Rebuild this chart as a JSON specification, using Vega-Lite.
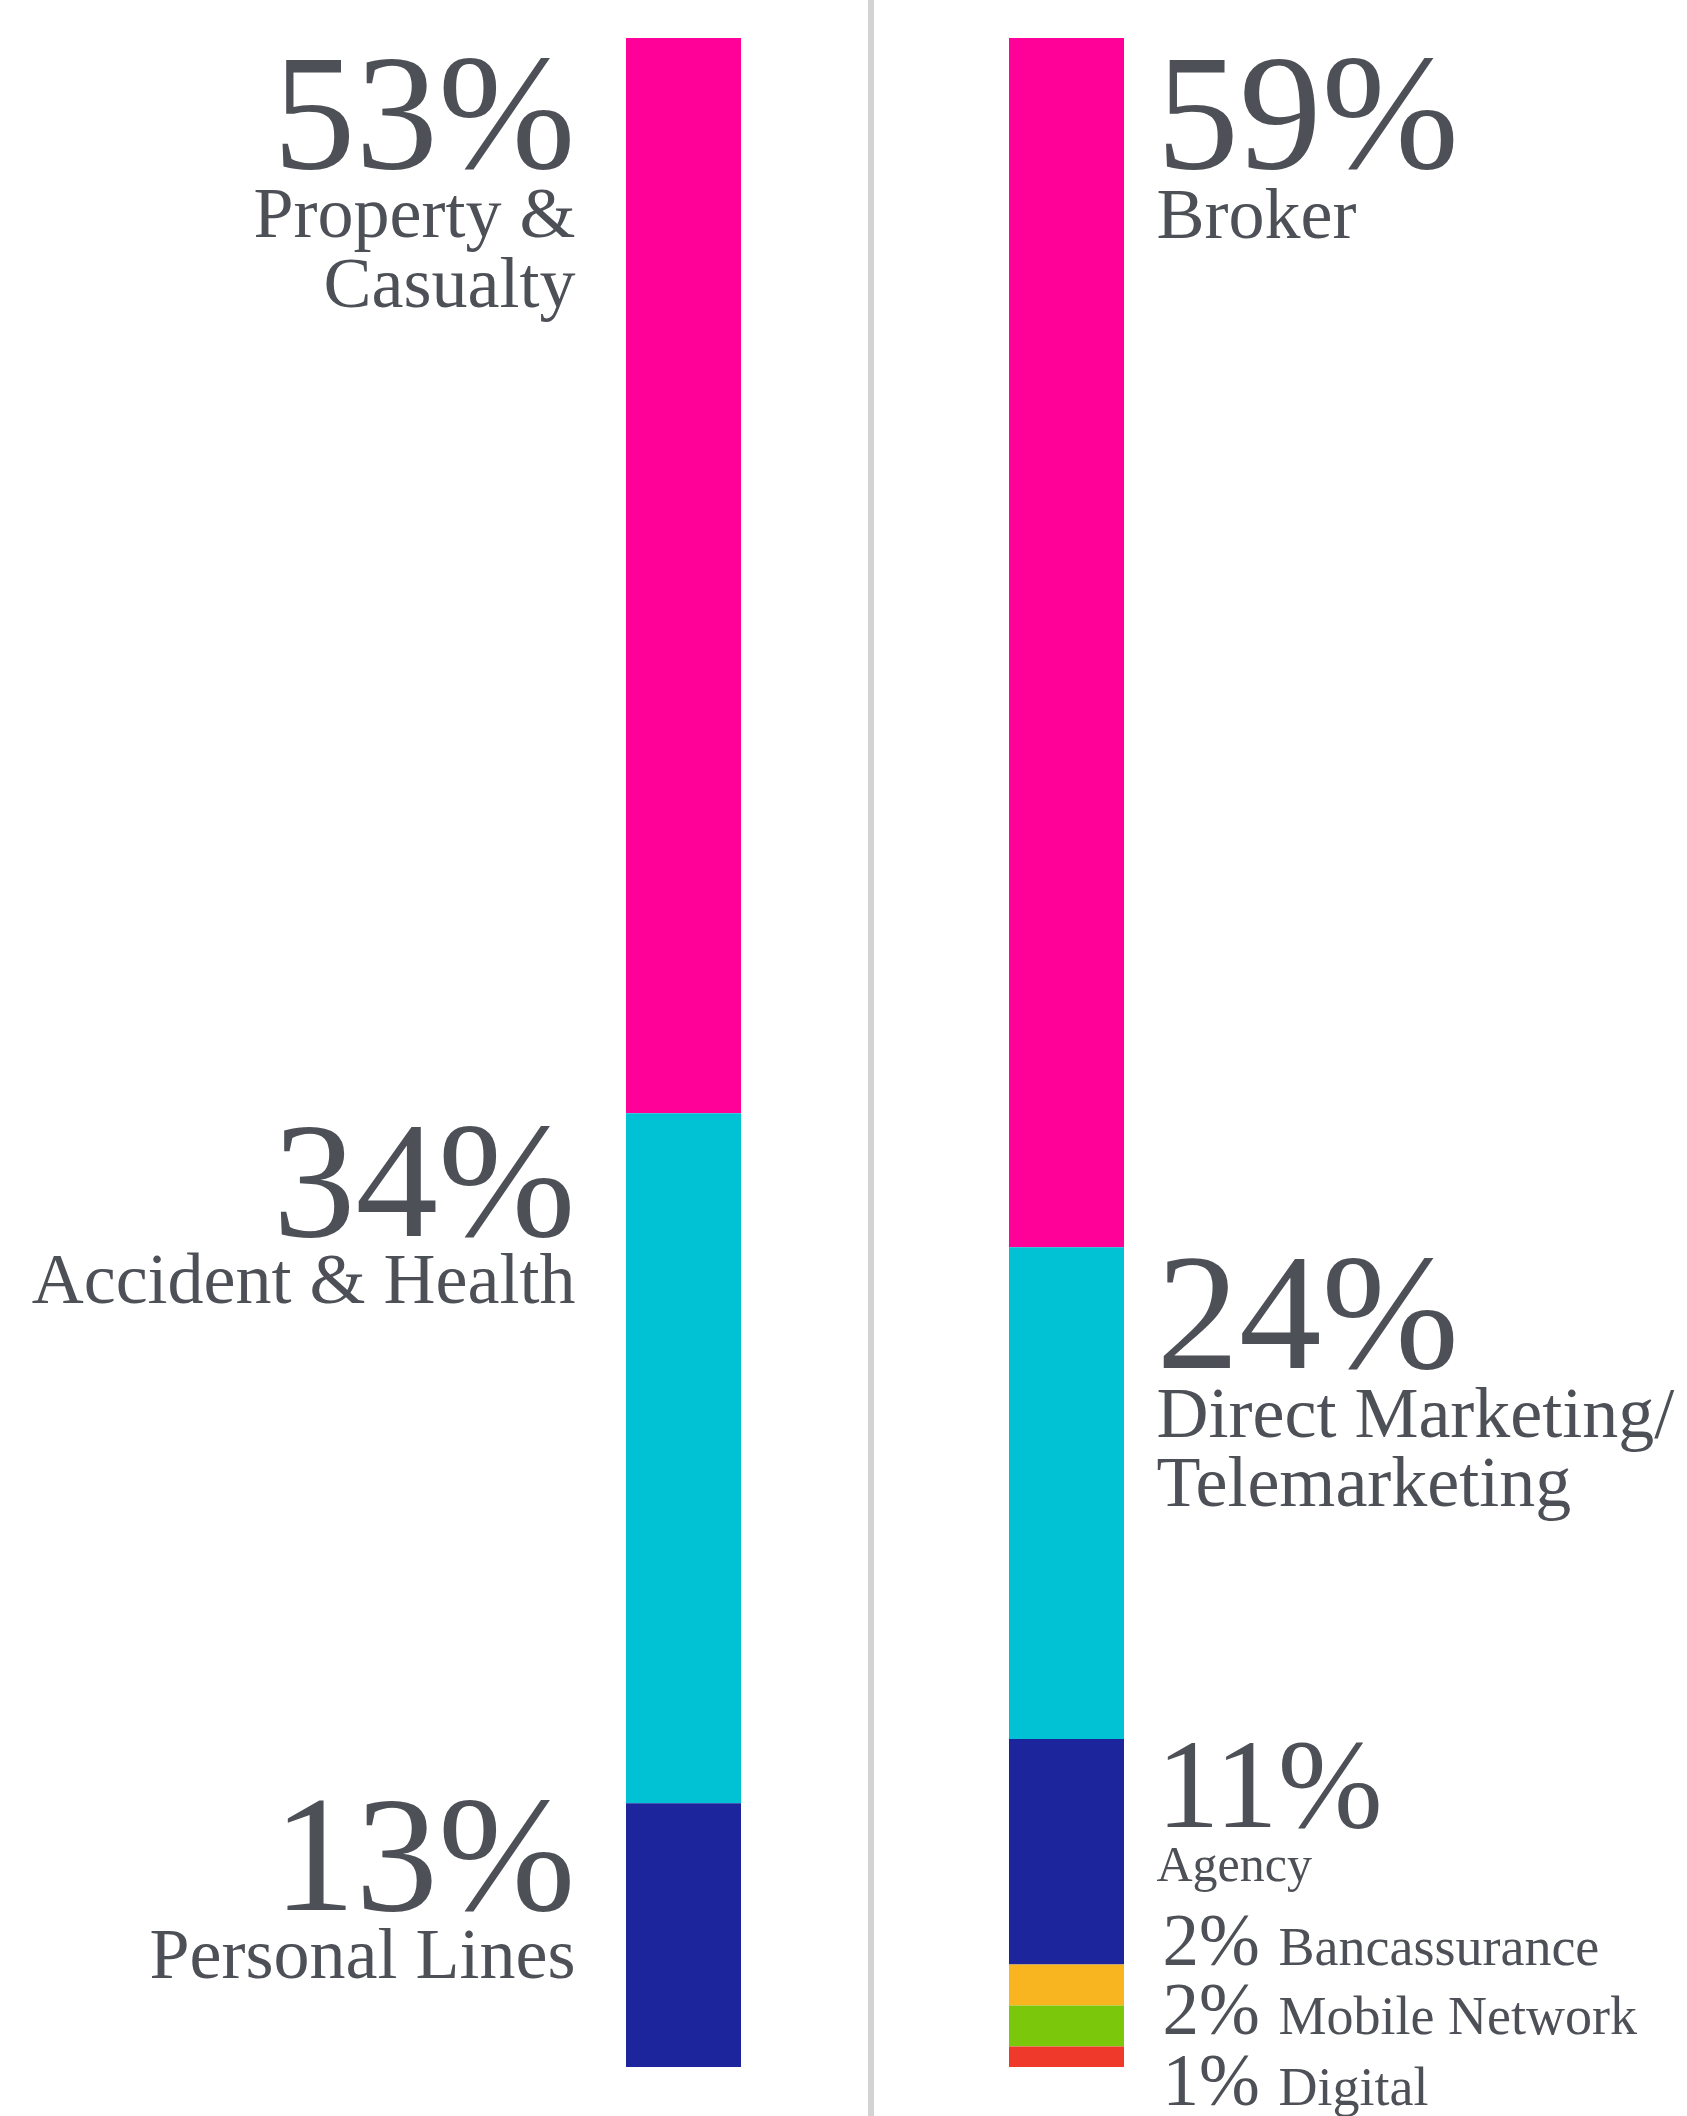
{
  "$schema": "https://vega.github.io/schema/vega-lite/v6.json",
  "width": 1687,
  "height": 2116,
  "padding": 0,
  "autosize": {"type": "none"},
  "background": "#ffffff",
  "config": {"view": {"stroke": null}, "text": {"font": "Liberation Serif", "color": "#4D5056", "baseline": "alphabetic"}},
  "data": {
    "values": [
      {"panel": "Line of business", "name": "Property &\nCasualty", "pct": 53, "order": 1, "tier": "big"},
      {"panel": "Line of business", "name": "Accident & Health", "pct": 34, "order": 2, "tier": "big"},
      {"panel": "Line of business", "name": "Personal Lines", "pct": 13, "order": 3, "tier": "big"},
      {"panel": "Distribution channel", "name": "Broker", "pct": 59, "order": 1, "tier": "big"},
      {"panel": "Distribution channel", "name": "Direct Marketing/\nTelemarketing", "pct": 24, "order": 2, "tier": "big"},
      {"panel": "Distribution channel", "name": "Agency", "pct": 11, "order": 3, "tier": "mid"},
      {"panel": "Distribution channel", "name": "Bancassurance", "pct": 2, "order": 4, "tier": "small"},
      {"panel": "Distribution channel", "name": "Mobile Network", "pct": 2, "order": 5, "tier": "small"},
      {"panel": "Distribution channel", "name": "Digital", "pct": 1, "order": 6, "tier": "small"}
    ]
  },
  "transform": [
    {"stack": "pct", "groupby": ["panel"], "sort": [{"field": "order", "order": "ascending"}], "offset": "normalize", "as": ["s0", "s1"]},
    {"calculate": "datum.pct + '%'", "as": "pctLabel"}
  ],
  "encoding": {
    "x": {
      "field": "panel", "type": "nominal", "axis": null,
      "scale": {"type": "band", "domain": ["Line of business", "Distribution channel"], "range": [492, 1258], "paddingInner": 0, "paddingOuter": 0}
    },
    "y": {"field": "s0", "type": "quantitative", "axis": null, "scale": {"domain": [0, 1], "range": [38, 2067], "nice": false, "zero": false}}
  },
  "layer": [
    {
      "transform": [{"filter": "datum.panel == 'Distribution channel' && datum.order == 1"}],
      "mark": {"type": "rule", "color": "#D3D3D3", "strokeWidth": 6, "xOffset": -4},
      "encoding": {"x": {"field": "panel", "type": "nominal", "bandPosition": 0}, "y": {"value": 0}, "y2": {"value": 2116}}
    },
    {
      "mark": {"type": "bar", "width": 115},
      "encoding": {
        "y2": {"field": "s1"},
        "color": {
          "field": "name", "type": "nominal", "legend": null,
          "scale": {
            "domain": ["Property &\nCasualty", "Accident & Health", "Personal Lines", "Broker", "Direct Marketing/\nTelemarketing", "Agency", "Bancassurance", "Mobile Network", "Digital"],
            "range": ["#FF0099", "#00C2D4", "#1C259B", "#FF0099", "#00C2D4", "#1C259B", "#F9B51F", "#7AC70B", "#EE392B"]
          }
        }
      }
    },
    {
      "transform": [{"filter": "datum.panel == 'Line of business' && datum.order == 1"}],
      "mark": {"type": "text", "fontSize": 165, "align": "right", "dx": -108, "dy": 130},
      "encoding": {"text": {"field": "pctLabel"}}
    },
    {
      "transform": [{"filter": "datum.panel == 'Line of business' && datum.order == 1"}],
      "mark": {"type": "text", "fontSize": 72, "align": "right", "dx": -108, "dy": 199, "lineBreak": "\n", "lineHeight": 70},
      "encoding": {"text": {"field": "name"}}
    },
    {
      "transform": [{"filter": "datum.panel == 'Line of business' && datum.order == 2"}],
      "mark": {"type": "text", "fontSize": 165, "align": "right", "dx": -108, "dy": 123},
      "encoding": {"text": {"field": "pctLabel"}}
    },
    {
      "transform": [{"filter": "datum.panel == 'Line of business' && datum.order == 2"}],
      "mark": {"type": "text", "fontSize": 72, "align": "right", "dx": -108, "dy": 190},
      "encoding": {"text": {"field": "name"}}
    },
    {
      "transform": [{"filter": "datum.panel == 'Line of business' && datum.order == 3"}],
      "mark": {"type": "text", "fontSize": 165, "align": "right", "dx": -108, "dy": 107},
      "encoding": {"text": {"field": "pctLabel"}}
    },
    {
      "transform": [{"filter": "datum.panel == 'Line of business' && datum.order == 3"}],
      "mark": {"type": "text", "fontSize": 72, "align": "right", "dx": -108, "dy": 175},
      "encoding": {"text": {"field": "name"}}
    },
    {
      "transform": [{"filter": "datum.panel == 'Distribution channel' && datum.order == 1"}],
      "mark": {"type": "text", "fontSize": 165, "align": "left", "dx": 90, "dy": 130},
      "encoding": {"text": {"field": "pctLabel"}}
    },
    {
      "transform": [{"filter": "datum.panel == 'Distribution channel' && datum.order == 1"}],
      "mark": {"type": "text", "fontSize": 72, "align": "left", "dx": 90, "dy": 200},
      "encoding": {"text": {"field": "name"}}
    },
    {
      "transform": [{"filter": "datum.panel == 'Distribution channel' && datum.order == 2"}],
      "mark": {"type": "text", "fontSize": 165, "align": "left", "dx": 90, "dy": 121},
      "encoding": {"text": {"field": "pctLabel"}}
    },
    {
      "transform": [{"filter": "datum.panel == 'Distribution channel' && datum.order == 2"}],
      "mark": {"type": "text", "fontSize": 72, "align": "left", "dx": 90, "dy": 190, "lineBreak": "\n", "lineHeight": 69},
      "encoding": {"text": {"field": "name"}}
    },
    {
      "transform": [{"filter": "datum.tier == 'mid'"}],
      "mark": {"type": "text", "fontSize": 126, "align": "left", "dx": 90, "dy": 88},
      "encoding": {"text": {"field": "pctLabel"}}
    },
    {
      "transform": [{"filter": "datum.tier == 'mid'"}],
      "mark": {"type": "text", "fontSize": 50, "align": "left", "dx": 90, "dy": 142},
      "encoding": {"text": {"field": "name"}}
    },
    {
      "transform": [{"filter": "datum.order == 4 && datum.tier == 'small'"}],
      "mark": {"type": "text", "fontSize": 73, "align": "left", "dx": 96, "dy": 0},
      "encoding": {"text": {"field": "pctLabel"}}
    },
    {
      "transform": [{"filter": "datum.order == 4 && datum.tier == 'small'"}],
      "mark": {"type": "text", "fontSize": 54, "align": "left", "dx": 212, "dy": 0},
      "encoding": {"text": {"field": "name"}}
    },
    {
      "transform": [{"filter": "datum.order == 5 && datum.tier == 'small'"}],
      "mark": {"type": "text", "fontSize": 73, "align": "left", "dx": 96, "dy": 28},
      "encoding": {"text": {"field": "pctLabel"}}
    },
    {
      "transform": [{"filter": "datum.order == 5 && datum.tier == 'small'"}],
      "mark": {"type": "text", "fontSize": 54, "align": "left", "dx": 212, "dy": 28},
      "encoding": {"text": {"field": "name"}}
    },
    {
      "transform": [{"filter": "datum.order == 6 && datum.tier == 'small'"}],
      "mark": {"type": "text", "fontSize": 73, "align": "left", "dx": 96, "dy": 58},
      "encoding": {"text": {"field": "pctLabel"}}
    },
    {
      "transform": [{"filter": "datum.order == 6 && datum.tier == 'small'"}],
      "mark": {"type": "text", "fontSize": 54, "align": "left", "dx": 212, "dy": 58},
      "encoding": {"text": {"field": "name"}}
    }
  ]
}
